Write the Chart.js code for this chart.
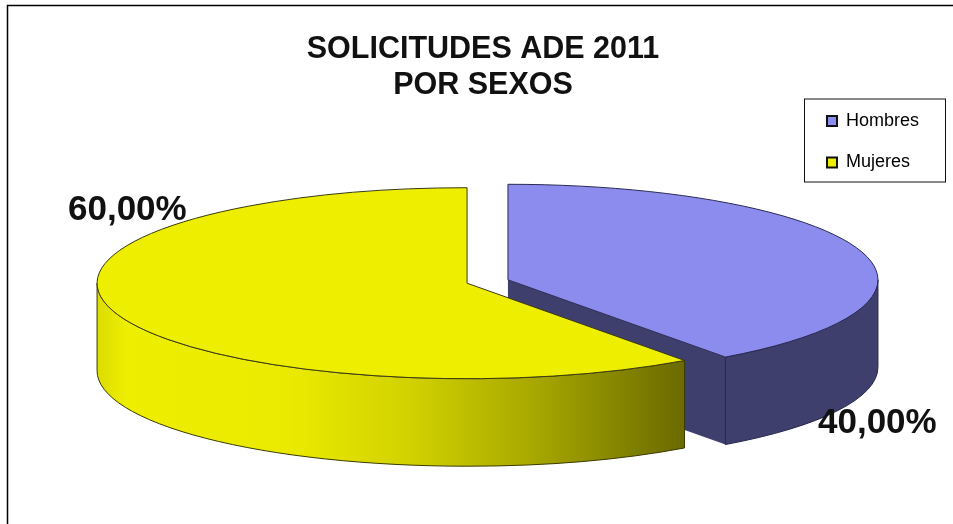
<!DOCTYPE html>
<html><head><meta charset="utf-8">
<style>html,body{margin:0;padding:0;background:#fff}canvas{display:block}</style>
<script src="https://cdn.jsdelivr.net/npm/chart.js@4"></script>
</head><body><canvas id="c" width="953" height="524"></canvas>
<script>
const categories = ['Hombres', 'Mujeres'];
const values = [40, 60];
const topColors = ['#8c8cee', '#eeee00'];
const titleLines = ['SOLICITUDES ADE 2011', 'POR SEXOS'];

const FONT = '"Liberation Sans", Arial, sans-serif';
const CX = 487.5, CY = 281.5, RX = 370, RY = 95.5, DEPTH = 87.5, EXPLODE = 21.5;
const TITLE_CENTER = 483;
const LABEL_SPOTS = [{x: 818, y: 433}, {x: 68, y: 220}];
const pct = v => v.toFixed(2).replace('.', ',') + '%';

function place(arc) {
  const mid = (arc.startAngle + arc.endAngle) / 2;
  return {cx: CX + Math.cos(mid) * EXPLODE, cy: CY + Math.sin(mid) * EXPLODE * RY / RX, a0: arc.startAngle, a1: arc.endAngle};
}
function wallPath(ctx, p, a0, a1) {
  ctx.beginPath();
  ctx.ellipse(p.cx, p.cy, RX, RY, 0, a0, a1);
  ctx.ellipse(p.cx, p.cy + DEPTH, RX, RY, 0, a1, a0, true);
  ctx.closePath();
}
function drawPurple(ctx, p) {
  const xe = p.cx + Math.cos(p.a1) * RX, ye = p.cy + Math.sin(p.a1) * RY;
  ctx.fillStyle = '#3f3f6e'; ctx.strokeStyle = '#25254a'; ctx.lineWidth = 1;
  ctx.beginPath();
  ctx.moveTo(p.cx, p.cy); ctx.lineTo(xe, ye); ctx.lineTo(xe, ye + DEPTH); ctx.lineTo(p.cx, p.cy + DEPTH); ctx.closePath();
  ctx.fill();
  wallPath(ctx, p, 0, p.a1);
  ctx.fill(); ctx.stroke();
}
function drawYellow(ctx, p) {
  const g = ctx.createLinearGradient(p.cx - RX, 0, p.cx + Math.cos(p.a0) * RX, 0);
  [[0, '#dcdc00'], [0.05, '#eeee00'], [0.33, '#eaea00'], [0.53, '#d2d200'], [0.75, '#a6a600'], [1, '#6a6a00']]
    .forEach(s => g.addColorStop(s[0], s[1]));
  ctx.fillStyle = g; ctx.strokeStyle = '#3a3a00'; ctx.lineWidth = 1;
  wallPath(ctx, p, p.a0, Math.PI);
  ctx.fill(); ctx.stroke();
}

const pie3d = {
  id: 'pie3d',
  beforeDraw(chart) {
    const ctx = chart.ctx;
    ctx.save();
    ctx.fillStyle = '#fff'; ctx.fillRect(0, 0, chart.width, chart.height);
    ctx.strokeStyle = '#000'; ctx.lineWidth = 1.5;
    ctx.beginPath(); ctx.moveTo(7.5, chart.height); ctx.lineTo(7.5, 5.5); ctx.lineTo(chart.width, 5.5); ctx.stroke();
    ctx.lineWidth = 1; ctx.strokeStyle = '#111';
    ctx.strokeRect(804.5, 99, 141, 83);
    ctx.restore();
  },
  afterLayout(chart) {
    chart.boxes.filter(b => b.options && b.options.text && b.position === 'top').forEach(b => {
      const dx = TITLE_CENTER - (b.left + b.right) / 2;
      b.left += dx; b.right += dx;
    });
    const lg = chart.legend;
    const w = lg.width, h = lg.height;
    lg.left = 803.5; lg.right = lg.left + w; lg.top = 88.5; lg.bottom = lg.top + h;
  },
  beforeDatasetDraw(chart, args) {
    const ctx = chart.ctx;
    const arcs = args.meta.data;
    const places = arcs.map(place);
    ctx.save();
    drawPurple(ctx, places[0]);
    drawYellow(ctx, places[1]);
    arcs.forEach((arc, i) => {
      const p = places[i];
      ctx.save();
      ctx.translate(p.cx, p.cy);
      ctx.scale(RX / arc.outerRadius, RY / arc.outerRadius);
      ctx.translate(-arc.x, -arc.y);
      arc.draw(ctx);
      ctx.restore();
      ctx.strokeStyle = i === 0 ? '#2a2a55' : '#3a3a10';
      ctx.lineWidth = 1;
      ctx.beginPath();
      ctx.moveTo(p.cx, p.cy);
      ctx.ellipse(p.cx, p.cy, RX, RY, 0, p.a0, p.a1);
      ctx.closePath();
      ctx.stroke();
    });
    ctx.restore();
    return false;
  },
  afterDraw(chart) {
    const ctx = chart.ctx;
    ctx.save();
    ctx.font = 'bold 35px ' + FONT;
    ctx.fillStyle = '#111';
    ctx.textAlign = 'left'; ctx.textBaseline = 'alphabetic';
    values.forEach((v, i) => ctx.fillText(pct(v), LABEL_SPOTS[i].x, LABEL_SPOTS[i].y));
    ctx.restore();
  }
};

new Chart(document.getElementById('c'), {
  type: 'pie',
  data: {
    labels: categories,
    datasets: [{data: values, backgroundColor: topColors, borderWidth: 0, radius: 180, clip: false}]
  },
  plugins: [pie3d],
  options: {
    responsive: false,
    animation: false,
    events: [],
    layout: {padding: 0},
    plugins: {
      tooltip: {enabled: false},
      title: {display: true, text: titleLines[0], color: '#111', font: {family: FONT, size: 30.5, weight: 'bold'}, padding: {top: 31, bottom: 0}},
      subtitle: {display: true, text: titleLines[1], color: '#111', font: {family: FONT, size: 30.5, weight: 'bold'}, padding: {top: 0, bottom: 0}},
      legend: {
        display: true, position: 'right', align: 'start',
        labels: {
          boxWidth: 10, boxHeight: 10, padding: 23.5, color: '#333',
          font: {family: FONT, size: 18},
          generateLabels: c => c.data.labels.map((text, i) => ({text, fillStyle: topColors[i], strokeStyle: '#111', lineWidth: 2, index: i}))
        }
      }
    }
  }
});
</script></body></html>
